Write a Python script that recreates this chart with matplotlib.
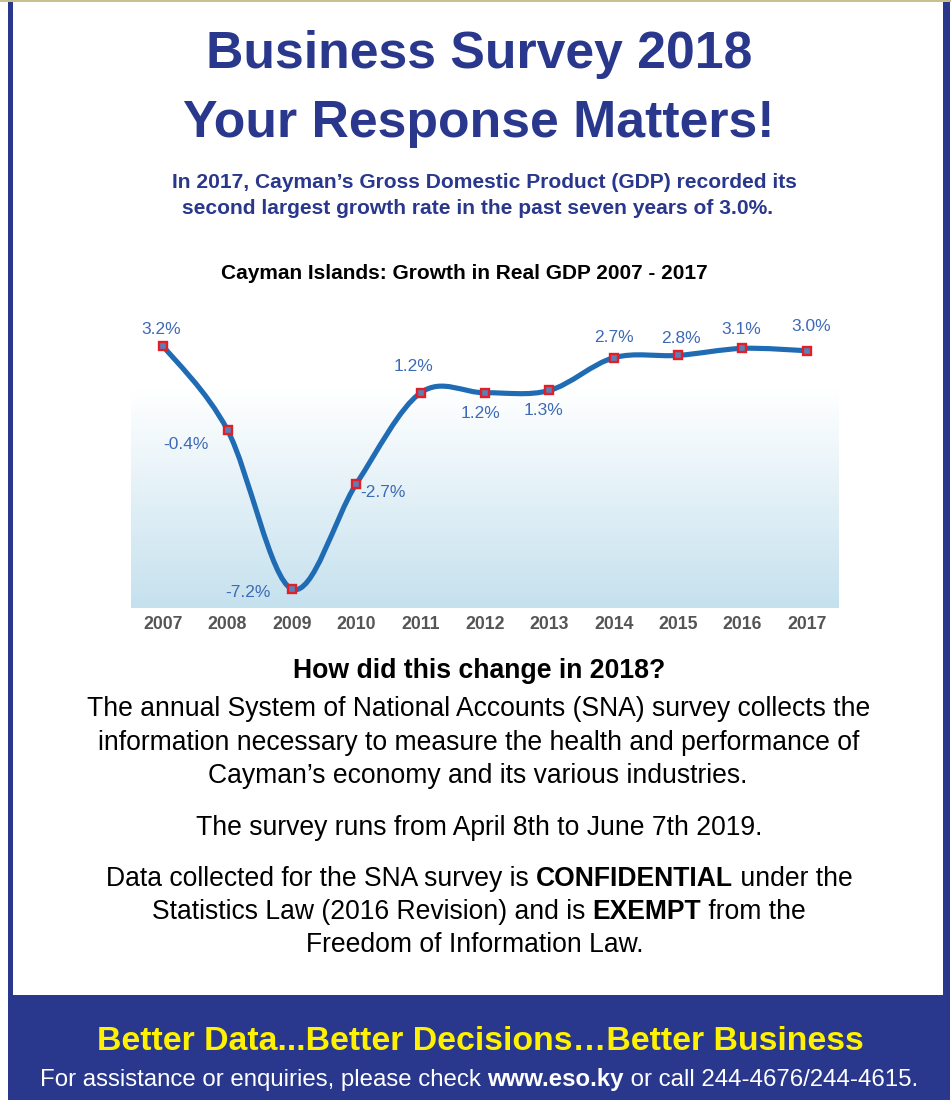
import numpy as np
import matplotlib
matplotlib.use("Agg")
import matplotlib.pyplot as plt
from matplotlib.path import Path
from matplotlib.patches import PathPatch, Rectangle
from matplotlib.colors import LinearSegmentedColormap

# data
years = [2007, 2008, 2009, 2010, 2011, 2012, 2013, 2014, 2015, 2016, 2017]
growth = [3.2, -0.4, -7.2, -2.7, 1.2, 1.2, 1.3, 2.7, 2.8, 3.1, 3.0]
labels = ["3.2%", "-0.4%", "-7.2%", "-2.7%", "1.2%", "1.2%", "1.3%", "2.7%", "2.8%", "3.1%", "3.0%"]
# label offsets from the point, in pixels (x right, y up)
label_offsets = [(-2, 17), (-42, -14), (-44, -3), (27, -9), (-7, 26), (-5, -21),
                 (-6, -20), (0, 20), (3, 17), (-1, 19), (4, 24)]

NAVY = "#29378d"
SANS = ["Liberation Sans", "DejaVu Sans"]

W, H = 951, 1100
fig = plt.figure(figsize=(W / 100, H / 100), dpi=100)
bg = fig.add_axes([0, 0, 1, 1])
bg.set_xlim(0, W)
bg.set_ylim(H, 0)
bg.axis("off")

# frame and footer
bg.add_patch(Rectangle((8, 0), 5, 995, color=NAVY, lw=0))
bg.add_patch(Rectangle((943, 0), 7, 995, color=NAVY, lw=0))
bg.add_patch(Rectangle((8, 994.5), 942, 106, color=NAVY, lw=0))
bg.add_patch(Rectangle((0, 0), W, 2, color="#c9c08e", lw=0))

renderer = fig.canvas.get_renderer()


def rich_line(y, parts, size, color, cx=478):
    texts = []
    for s, w in parts:
        t = bg.text(0, y, s, fontsize=size, fontweight=w, color=color,
                    va="baseline", ha="left", family=SANS)
        texts.append(t)
    widths = [t.get_window_extent(renderer).width for t in texts]
    x = cx - sum(widths) / 2
    for t, wd in zip(texts, widths):
        t.set_x(x)
        x += wd


def line(y, s, size, color, weight="normal", cx=478):
    rich_line(y, [(s, weight)], size, color, cx)


line(68, "Business Survey 2018", 37.3, NAVY, "bold", cx=479)
line(137, "Your Response Matters!", 37.3, NAVY, "bold", cx=479)
line(188, "In 2017, Cayman\u2019s Gross Domestic Product (GDP) recorded its", 15.1, NAVY, "bold", cx=484)
line(214, "second largest growth rate in the past seven years of 3.0%.", 15.1, NAVY, "bold", cx=478)
line(279, "Cayman Islands: Growth in Real GDP 2007 - 2017", 15, "black", "bold", cx=464)

line(678, "How did this change in 2018?", 19.2, "black", "bold", cx=479)
line(716, "The annual System of National Accounts (SNA) survey collects the", 19.1, "black", cx=479)
line(750, "information necessary to measure the health and performance of", 19.1, "black", cx=479)
line(783, "Cayman\u2019s economy and its various industries.", 19.1, "black", cx=478)
line(835, "The survey runs from April 8th to June 7th 2019.", 19.1, "black", cx=479)
rich_line(886, [("Data collected for the SNA survey is ", "normal"), ("CONFIDENTIAL", "bold"),
                (" under the", "normal")], 19.1, "black", cx=479)
rich_line(919, [("Statistics Law (2016 Revision) and is ", "normal"), ("EXEMPT", "bold"),
                (" from the", "normal")], 19.1, "black", cx=479)
line(952, "Freedom of Information Law.", 19.1, "black", cx=475)

line(1050, "Better Data...Better Decisions\u2026Better Business", 24.4, "#fff200", "bold", cx=480)
rich_line(1086, [("For assistance or enquiries, please check ", "normal"), ("www.eso.ky", "bold"),
                 (" or call 244-4676/244-4615.", "normal")], 17.25, "white", cx=479)

# chart
ax = fig.add_axes([131 / W, 1 - 607.7 / H, (839 - 131) / W, (607.7 - 304) / H])
ax.set_xlim(2006.5, 2017.5)
ax.set_ylim(-8, 5)
for sp in ax.spines.values():
    sp.set_visible(False)
ax.set_yticks([])
ax.set_xticks(years)
ax.set_xticklabels([str(y) for y in years], fontsize=12.7, fontweight="bold",
                   color="#555555", family=SANS)
ax.tick_params(axis="x", length=0, pad=6)
ax.patch.set_alpha(0)

cmap = LinearSegmentedColormap.from_list("bgfade", ["#c5e1ee", "#ffffff"])
grad = np.linspace(0, 1, 256).reshape(-1, 1)
ax.imshow(grad, cmap=cmap, origin="lower", aspect="auto",
          extent=[2006.5, 2017.5, -8, 1.3], zorder=0)

# smooth line through the points (Catmull-Rom as cubic Bezier)
pts = np.column_stack([years, growth]).astype(float)
ext = np.vstack([pts[0], pts, pts[-1]])
verts = [tuple(pts[0])]
codes = [Path.MOVETO]
for i in range(1, len(ext) - 2):
    p0, p1, p2, p3 = ext[i - 1], ext[i], ext[i + 1], ext[i + 2]
    c1 = p1 + (p2 - p0) / 6
    c2 = p2 - (p3 - p1) / 6
    verts += [tuple(c1), tuple(c2), tuple(p2)]
    codes += [Path.CURVE4] * 3
ax.add_patch(PathPatch(Path(verts, codes), fill=False, edgecolor="#1f6bb4",
                       lw=3.7, capstyle="round", joinstyle="round", zorder=2))

ax.plot(years, growth, "s", ms=6, mfc="#5b7fb8", mec="#e31e24", mew=1.7, zorder=3)

for x, y, lab, (dx, dy) in zip(years, growth, labels, label_offsets):
    ax.annotate(lab, (x, y), xytext=(dx * 0.72, dy * 0.72), textcoords="offset points",
                ha="center", va="center", fontsize=12.5, color="#3d6ab6", family=SANS)

fig.savefig("out.png", dpi=100)
